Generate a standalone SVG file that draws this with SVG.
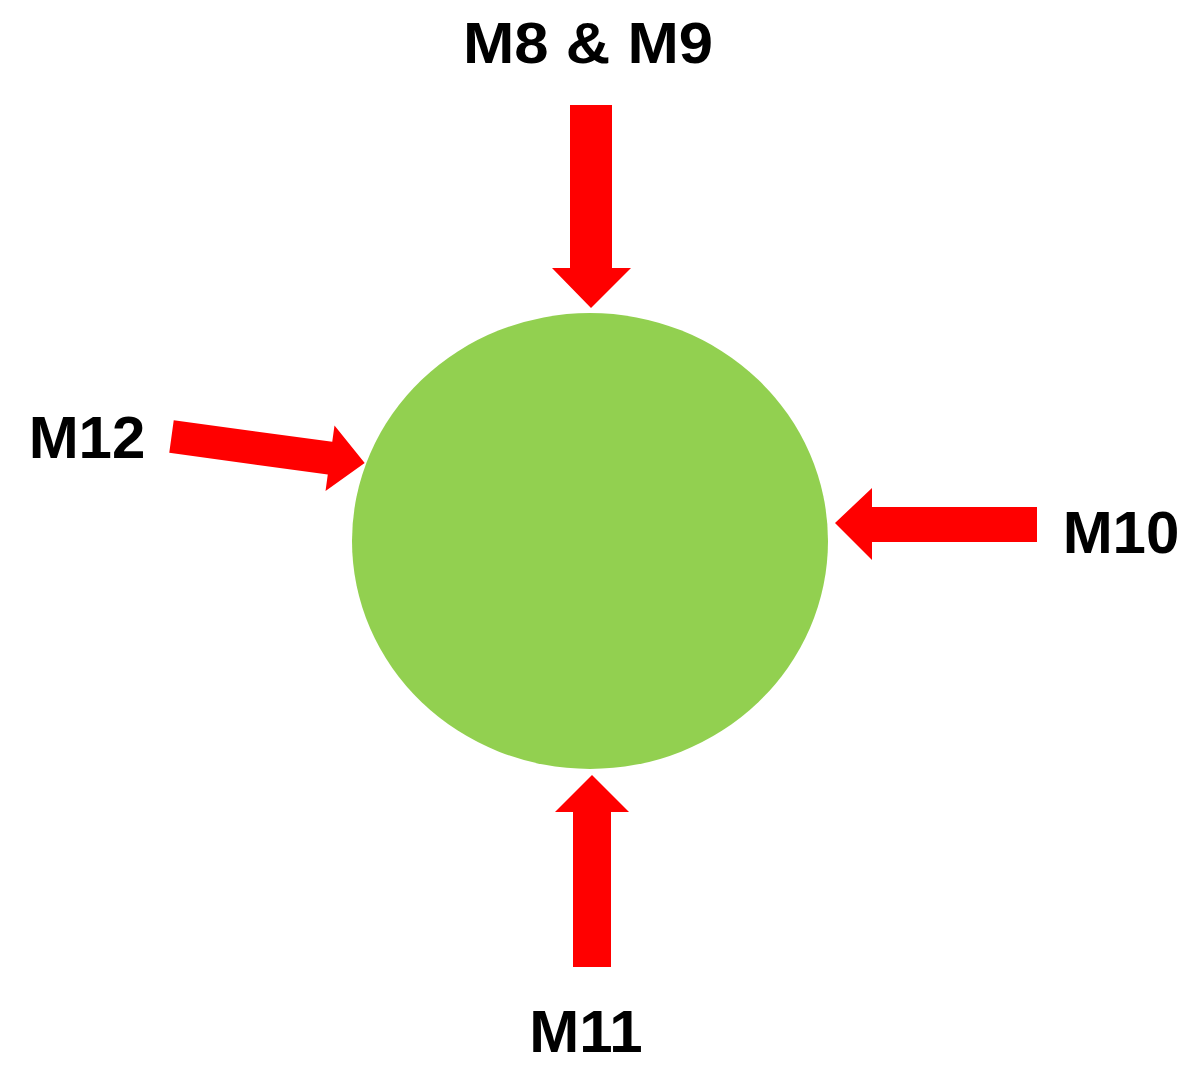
<svg xmlns="http://www.w3.org/2000/svg" width="1182" height="1070" viewBox="0 0 1182 1070">
<style>
.lbl{font-family:"Liberation Sans",Arial,sans-serif;font-weight:bold;font-size:60px;fill:#000;text-anchor:middle}
.arr{fill:#FF0000}
</style>
<rect width="1182" height="1070" fill="#fff"/>
<g id="center">
<ellipse cx="590" cy="541" rx="238" ry="228" fill="#92D050"/>
</g>
<g id="connectors">
<polygon id="arrow-top" class="arr" points="570,105 612,105 612,268 631,268 591,308 552,268 570,268"/>
<polygon id="arrow-bottom" class="arr" points="573,967 611,967 611,812 629,812 592,775 555,812 573,812"/>
<polygon id="arrow-right" class="arr" points="1037,507 1037,542 872,542 872,560 835,523 872,488 872,507"/>
<polygon id="arrow-left" class="arr" transform="translate(171.5,436.5) rotate(7.8)" points="0,-16.5 160,-16.5 160,-33 195,0 160,33 160,16.5 0,16.5"/>
</g>
<g id="label-m8m9"><text class="lbl" x="588" y="63" font-size="57" style="font-size:57px" textLength="250" lengthAdjust="spacingAndGlyphs">M8 &amp; M9</text></g>
<g id="label-m12"><text class="lbl" x="87" y="458">M12</text></g>
<g id="label-m10"><text class="lbl" x="1121" y="553">M10</text></g>
<g id="label-m11"><text class="lbl" x="586" y="1052">M11</text></g>
</svg>
